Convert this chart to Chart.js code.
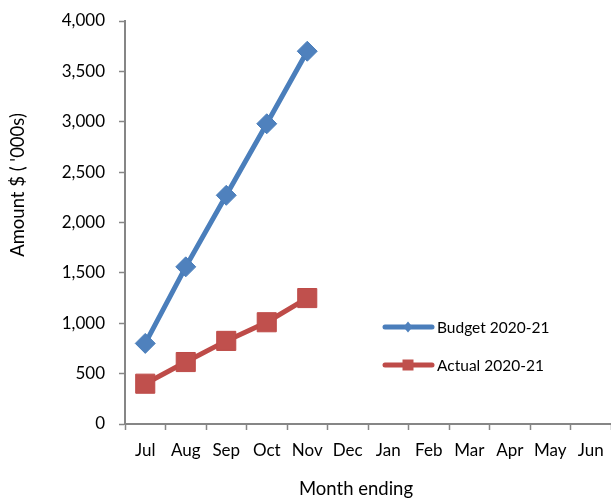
<!DOCTYPE html>
<html>
<head>
<meta charset="utf-8">
<script src="https://cdn.jsdelivr.net/npm/chart.js@4/dist/chart.umd.min.js"></script>
<style>
  html, body { margin: 0; padding: 0; background: #fff; }
  #wrap { width: 611px; height: 499px; }
</style>
</head>
<body>
<div id="wrap"><canvas id="c" width="611" height="499"></canvas></div>
<script>
// Monthly cumulative amounts, $ thousands
const months = ['Jul', 'Aug', 'Sep', 'Oct', 'Nov', 'Dec', 'Jan', 'Feb', 'Mar', 'Apr', 'May', 'Jun'];
const budget2021 = [800, 1560, 2270, 2980, 3700];
const actual2021 = [400, 615, 825, 1010, 1250];
const seriesNames = ['Budget 2020-21', 'Actual 2020-21'];
const yTitle = "Amount $ ( '000s)";
const xTitle = 'Month ending';

const FONT = 'Lato, "DejaVu Sans", sans-serif';
const AXIS_GREY = '#868686';
const BLUE = '#4A7EBB';
const BLUE_FILL = '#4F81BD';
const RED = '#BE4B48';
const RED_FILL = '#C0504D';

// Axis titles and legend, placed in canvas pixels
const decorPlugin = {
  id: 'decor',
  afterDraw(chart) {
    const ctx = chart.ctx;
    ctx.save();
    ctx.fillStyle = '#000';
    ctx.textBaseline = 'middle';
    ctx.textAlign = 'center';
    ctx.font = '18.5px ' + FONT;
    ctx.fillText(xTitle, 356, 489);
    ctx.save();
    ctx.translate(18, 185);
    ctx.rotate(-Math.PI / 2);
    ctx.fillText(yTitle, 0, 0);
    ctx.restore();

    // legend
    const rows = [327, 365];
    chart.data.datasets.forEach((ds, i) => {
      const y = rows[i];
      ctx.strokeStyle = ds.borderColor;
      ctx.lineWidth = 5;
      ctx.lineCap = 'round';
      ctx.beginPath();
      ctx.moveTo(385, y);
      ctx.lineTo(432, y);
      ctx.stroke();
      ctx.fillStyle = ds.pointBackgroundColor;
      ctx.beginPath();
      if (ds.pointStyle === 'rectRot') {
        ctx.moveTo(408, y - 5.5);
        ctx.lineTo(412.5, y);
        ctx.lineTo(408, y + 5.5);
        ctx.lineTo(403.5, y);
        ctx.closePath();
      } else {
        ctx.rect(402.5, y - 5.5, 11, 11);
      }
      ctx.fill();
      ctx.fillStyle = '#000';
      ctx.textAlign = 'left';
      ctx.font = '15.5px ' + FONT;
      ctx.fillText(ds.label, 437, y + 0.5);
    });
    ctx.restore();
  }
};

new Chart(document.getElementById('c'), {
  type: 'line',
  data: {
    labels: months,
    datasets: [
      {
        label: seriesNames[0],
        data: budget2021,
        borderColor: BLUE,
        borderWidth: 5,
        pointStyle: 'rectRot',
        pointRadius: 10,
        pointBackgroundColor: BLUE_FILL,
        pointBorderColor: BLUE,
        pointBorderWidth: 1,
        tension: 0
      },
      {
        label: seriesNames[1],
        data: actual2021,
        borderColor: RED,
        borderWidth: 5,
        pointStyle: 'rect',
        pointRadius: 13.5,
        pointBackgroundColor: RED_FILL,
        pointBorderColor: RED,
        pointBorderWidth: 1,
        tension: 0
      }
    ]
  },
  options: {
    responsive: false,
    animation: false,
    devicePixelRatio: 1,
    layout: { autoPadding: false, padding: { top: 21, right: 0, bottom: 0, left: 0 } },
    plugins: {
      legend: { display: false },
      tooltip: { enabled: false }
    },
    scales: {
      x: {
        offset: true,
        grid: {
          display: true,
          drawOnChartArea: false,
          drawTicks: true,
          tickLength: 6,
          tickColor: AXIS_GREY,
          tickWidth: 1.5,
          offset: true
        },
        border: { display: true, color: AXIS_GREY, width: 2 },
        ticks: {
          color: '#000',
          font: { family: FONT, size: 17 },
          padding: 10,
          maxRotation: 0,
          autoSkip: false
        },
        afterFit(scale) {
          scale.height = 75;
          scale.paddingLeft = 0;
          scale.paddingRight = 0;
        }
      },
      y: {
        min: 0,
        max: 4000,
        grid: {
          display: true,
          drawOnChartArea: false,
          drawTicks: true,
          tickLength: 6,
          tickColor: AXIS_GREY,
          tickWidth: 1.5
        },
        border: { display: true, color: AXIS_GREY, width: 2 },
        ticks: {
          stepSize: 500,
          color: '#000',
          font: { family: FONT, size: 17 },
          padding: 14,
          callback: (v) => v.toLocaleString('en-US')
        },
        afterFit(scale) {
          scale.width = 125;
          scale.paddingTop = 0;
          scale.paddingBottom = 0;
        }
      }
    }
  },
  plugins: [decorPlugin]
});
</script>
</body>
</html>
